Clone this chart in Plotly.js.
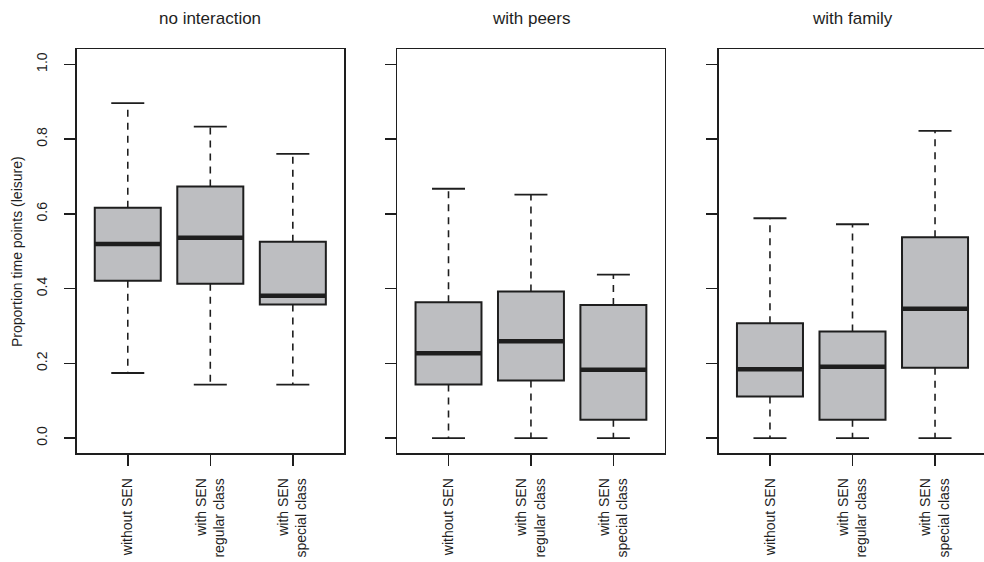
<!DOCTYPE html>
<html>
<head>
<meta charset="utf-8">
<script src="https://cdn.plot.ly/plotly-3.0.1.min.js"></script>
<style>
  html, body { margin: 0; padding: 0; overflow: hidden; background: #fff; }
  #chart { width: 984px; height: 562px; }
</style>
</head>
<body>
<div id="chart"></div>
<script>
// ---- data ----
const panelTitles = ["no interaction", "with peers", "with family"];
const groupLabels = ["without SEN", "with SEN<br>regular class", "with SEN<br>special class"];
const groupPos = [1, 2, 3];
const yTickVals = [0, 0.2, 0.4, 0.6, 0.8, 1.0];
const yTickText = ["0.0", "0.2", "0.4", "0.6", "0.8", "1.0"];
const yAxisTitle = "Proportion time points (leisure)";

// one row per panel, one value per group
const lowerWhisker = [
  [0.174, 0.143, 0.143],
  [0.000, 0.000, 0.000],
  [0.000, 0.000, 0.000]
];
const q1 = [
  [0.421, 0.413, 0.357],
  [0.143, 0.154, 0.049],
  [0.111, 0.049, 0.188]
];
const medians = [
  [0.519, 0.536, 0.381],
  [0.227, 0.259, 0.183],
  [0.184, 0.191, 0.346]
];
const q3 = [
  [0.616, 0.673, 0.525],
  [0.363, 0.392, 0.356],
  [0.307, 0.285, 0.537]
];
const upperWhisker = [
  [0.896, 0.833, 0.760],
  [0.667, 0.651, 0.437],
  [0.588, 0.572, 0.822]
];

// ---- styling ----
const FONT = "Liberation Sans, Arial, Helvetica, sans-serif";
const INK = "#1e1e1e";
const FILL = "#bdbec1";
const BOXW = 0.8;
const CAPW = 0.4;
const W = 984, H = 562;
const px = v => v / W;
// the third panel runs off the right edge of the picture (as in the reference)
const PANEL3_RIGHT = 986.2;
const domainsX = [[px(76.6), px(344)], [px(397.4), px(664.5)], [px(718.8), 1]];
const xRanges = [[0.38, 3.62], [0.38, 3.62],
                 [0.38, 0.38 + 3.24 * (W - 718.8) / (PANEL3_RIGHT - 718.8)]];
const domainY = [(H - 453) / H, (H - 49.3) / H];

const traces = [];
const layout = {
  width: W, height: H,
  margin: {l: 0, r: 0, t: 0, b: 0},
  paper_bgcolor: "#fff", plot_bgcolor: "#fff",
  showlegend: false,
  font: {family: FONT, color: INK, size: 14},
  annotations: []
};

for (let p = 0; p < 3; p++) {
  const sfx = p === 0 ? "" : String(p + 1);
  const xa = "x" + sfx, ya = "y" + sfx;

  const wx = [], wy = [];
  const cx = [], cy = [];
  const mx = [], my = [];
  groupPos.forEach((g, i) => {
    wx.push(g, g, null, g, g, null);
    wy.push(q3[p][i], upperWhisker[p][i], null, q1[p][i], lowerWhisker[p][i], null);
    cx.push(g - CAPW / 2, g + CAPW / 2, null, g - CAPW / 2, g + CAPW / 2, null);
    cy.push(upperWhisker[p][i], upperWhisker[p][i], null, lowerWhisker[p][i], lowerWhisker[p][i], null);
    mx.push(g - BOXW / 2, g + BOXW / 2, null);
    my.push(medians[p][i], medians[p][i], null);
  });

  // dashed whiskers
  traces.push({
    type: "scatter", mode: "lines", x: wx, y: wy, xaxis: xa, yaxis: ya,
    line: {color: INK, width: 1.6, dash: "7px,6px"}, hoverinfo: "skip", connectgaps: false
  });
  // whisker caps
  traces.push({
    type: "scatter", mode: "lines", x: cx, y: cy, xaxis: xa, yaxis: ya,
    line: {color: INK, width: 1.8}, hoverinfo: "skip", connectgaps: false
  });
  // boxes
  traces.push({
    type: "box", x: groupPos, xaxis: xa, yaxis: ya,
    q1: q1[p], median: medians[p], q3: q3[p],
    lowerfence: q1[p], upperfence: q3[p],
    width: BOXW, whiskerwidth: 0,
    fillcolor: FILL, line: {color: INK, width: 2},
    boxpoints: false, hoverinfo: "skip"
  });
  // thick median bars
  traces.push({
    type: "scatter", mode: "lines", x: mx, y: my, xaxis: xa, yaxis: ya,
    line: {color: INK, width: 4.5}, hoverinfo: "skip", connectgaps: false
  });

  layout["xaxis" + sfx] = {
    domain: domainsX[p], anchor: ya, range: xRanges[p],
    tickmode: "array", tickvals: groupPos, ticktext: groupLabels,
    tickangle: -90, ticks: "outside", ticklen: 11, tickwidth: 1.5, tickcolor: INK,
    ticklabelstandoff: 7,
    showline: true, mirror: true, linecolor: INK, linewidth: 1.6,
    showgrid: false, zeroline: false, fixedrange: true,
    tickfont: {family: FONT, size: 14, color: INK}
  };
  layout["yaxis" + sfx] = {
    domain: domainY, anchor: xa, range: [-0.04, 1.04],
    tickmode: "array", tickvals: yTickVals, ticktext: yTickText,
    showticklabels: p === 0, tickangle: -90,
    ticks: "outside", ticklen: 11, tickwidth: 1.5, tickcolor: INK,
    ticklabelstandoff: 11,
    showline: true, mirror: p < 2, linecolor: INK, linewidth: 1.6,
    showgrid: false, zeroline: false, fixedrange: true,
    tickfont: {family: FONT, size: 14, color: INK}
  };

  const left = domainsX[p][0] * W;
  const right = p === 2 ? PANEL3_RIGHT : domainsX[p][1] * W;
  layout.annotations.push({
    text: panelTitles[p], xref: "paper", yref: "paper",
    x: (left + right) / 2 / W, y: 1 - 18 / H,
    xanchor: "center", yanchor: "middle", showarrow: false,
    font: {family: FONT, size: 17, color: INK}
  });
}

layout.annotations.push({
  text: yAxisTitle, xref: "paper", yref: "paper",
  x: 17 / W, y: 1 - 252 / H,
  xanchor: "center", yanchor: "middle", textangle: -90, showarrow: false,
  font: {family: FONT, size: 14, color: INK}
});

Plotly.newPlot("chart", traces, layout, {displayModeBar: false, staticPlot: true});
</script>
</body>
</html>
